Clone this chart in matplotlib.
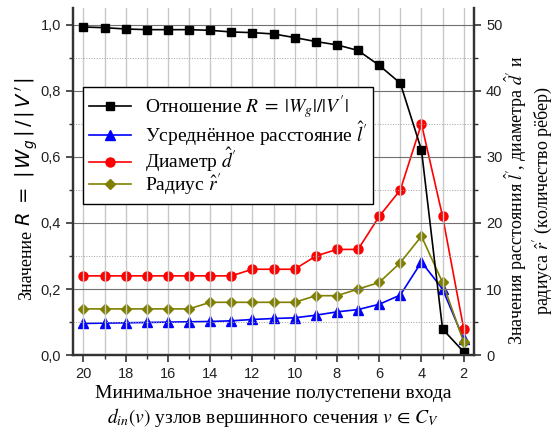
import numpy as np
import matplotlib
matplotlib.use("Agg")
import matplotlib.pyplot as plt
from matplotlib.ticker import FuncFormatter, MultipleLocator

plt.rcParams['mathtext.fontset'] = 'stix'

x = [20, 19, 18, 17, 16, 15, 14, 13, 12, 11, 10, 9, 8, 7, 6, 5, 4, 3, 2]
ratio = [0.993, 0.991, 0.987, 0.985, 0.985, 0.985, 0.983, 0.978, 0.976, 0.972,
         0.961, 0.949, 0.939, 0.922, 0.877, 0.823, 0.621, 0.079, 0.010]
avg_dist = [4.8, 4.85, 4.9, 4.95, 5.0, 5.05, 5.1, 5.2, 5.4, 5.55,
            5.65, 6.05, 6.55, 6.9, 7.7, 9.1, 14.1, 10.0, 2.4]
diameter = [12, 12, 12, 12, 12, 12, 12, 12, 13, 13, 13, 15, 16, 16, 21, 25, 35, 21, 4]
radius = [7, 7, 7, 7, 7, 7, 8, 8, 8, 8, 8, 9, 9, 10, 11, 14, 18, 11, 2]

fig = plt.figure(figsize=(5.56, 4.30), dpi=100)
ax = fig.add_axes([0.131, 0.174, 0.722, 0.807])
ax2 = ax.twinx()
ax.set_zorder(ax2.get_zorder() + 1)
ax.patch.set_visible(False)

serif = 'Liberation Serif'
sans = 'Liberation Sans'

l1, = ax.plot(x, ratio, '-s', color='black', lw=1.2, ms=6,
              label=r"Отношение $R\;=\;|W_g|/|V'|$")
l2, = ax2.plot(x, avg_dist, '-^', color='#0000ff', lw=1.2, ms=7,
               label=r"Усреднённое расстояние $\hat{l}'$")
l3, = ax2.plot(x, diameter, '-o', color='#ff0000', lw=1.2, ms=6.5,
               label=r"Диаметр $\hat{d}'$")
l4, = ax2.plot(x, radius, '-D', color='#808000', lw=1.2, ms=5.5,
               label=r"Радиус $\hat{r}'$")

ax.set_xlim(20.5, 1.5)
ax.set_ylim(0, 1.05)
ax2.set_ylim(0, 52.5)

ax.set_xticks(range(20, 1, -2))
ax.xaxis.set_minor_locator(MultipleLocator(1))
ax.yaxis.set_major_locator(MultipleLocator(0.2))
ax.yaxis.set_minor_locator(MultipleLocator(0.1))
ax.yaxis.set_major_formatter(FuncFormatter(lambda v, p: f"{v:.1f}".replace('.', ',')))
ax2.yaxis.set_major_locator(MultipleLocator(10))
ax2.yaxis.set_minor_locator(MultipleLocator(5))

ax.grid(True, which='major', axis='x', color='#c8c8c8', lw=1.0)
ax.grid(True, which='minor', axis='x', color='#c8c8c8', lw=1.0)
ax.grid(True, which='major', axis='y', color='#707070', lw=0.8)
ax.grid(True, which='minor', axis='y', color='#a0a0a0', lw=0.7, ls=':')
ax.set_axisbelow(True)

for a in (ax, ax2):
    a.spines['top'].set_visible(False)
    for s in ('left', 'right', 'bottom'):
        a.spines[s].set_linewidth(1.6)
        a.spines[s].set_color('#333333')
    a.tick_params(which='major', length=5, width=1.2, color='#333333',
                  labelsize=10.5, labelcolor='#222222')
    a.tick_params(which='minor', length=3, width=1.0, color='#333333')
    for t in a.get_xticklabels() + a.get_yticklabels():
        t.set_fontfamily(sans)

# left label: serif word + sans math, sharing one baseline
fig.text(31 / 556, (430 - 300) / 430, "Значение", rotation=90, family=serif,
         fontsize=13, ha='left', va='baseline', rotation_mode='anchor')
fig.text(31 / 556, (430 - 226) / 430, r"$R\;=\;|\,W_g\,|\,/\,|\,V\,'\,|$",
         rotation=90, fontsize=14, math_fontfamily='dejavusans',
         ha='left', va='baseline', rotation_mode='anchor')

ax.set_xlabel("Минимальное значение полустепени входа\n"
              r"$d_{in}(v)$ узлов вершинного сечения $v\,\in\,C_V$",
              fontsize=14, family=serif, labelpad=3, linespacing=1.2)
fig.text(529 / 556, (430 - 200) / 430,
         "Значения расстояния $\\hat{l}'$, диаметра $\\hat{d}'$ и\n"
         "радиуса $\\hat{r}'$ (количество рёбер)",
         rotation=90, fontsize=13, family=serif, linespacing=1.15,
         ha='center', va='center', multialignment='center')

leg = ax.legend(handles=[l1, l2, l3, l4], loc='upper left',
                bbox_to_anchor=(0.025, 0.772), borderaxespad=0, fancybox=False,
                framealpha=1, edgecolor='black', prop={'family': serif, 'size': 14},
                handlelength=2.2, handletextpad=0.7, labelspacing=-0.12,
                borderpad=0.3)
leg.get_frame().set_linewidth(1.0)

fig.savefig('out.png', dpi=100)
